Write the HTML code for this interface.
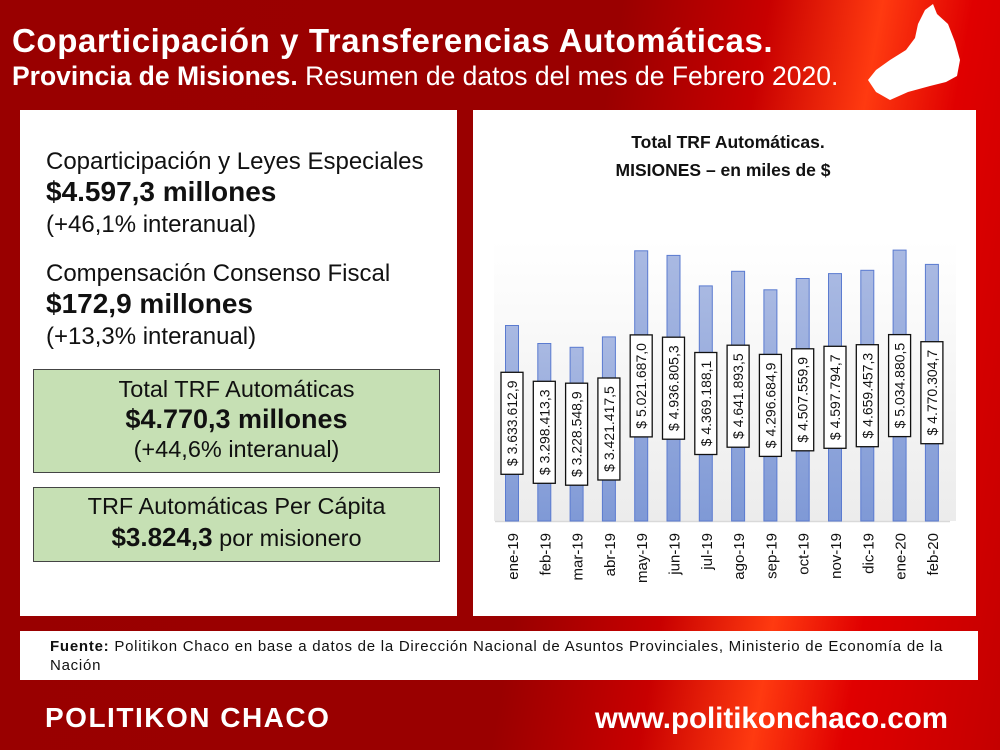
<!DOCTYPE html>
<html><head><meta charset="utf-8"><style>
body{margin:0;width:1000px;height:750px;overflow:hidden;font-family:"Liberation Sans",Arial,sans-serif;}
.bg{position:absolute;left:0;top:0;width:1000px;height:750px;background:linear-gradient(100deg,#990000 0%,#9a0000 55%,#c80000 68%,#ff3a10 78%,#e00000 86%,#c40000 100%);}
.t1{position:absolute;left:12px;top:22px;color:#fff;font-weight:bold;font-size:33px;letter-spacing:0.6px;}
.t2{position:absolute;left:12px;top:61px;color:#fff;font-size:26.5px;}
.panel{position:absolute;background:#fff;}
.l{position:absolute;left:46px;color:#111;}
.g{position:absolute;left:33px;width:405px;background:#c6e0b4;border:1.5px solid #444;text-align:center;color:#111;}
</style></head><body>
<div class="bg"></div>
<svg style="position:absolute;left:0;top:0" width="1000" height="750">
<polygon points="925,10 933,4 937,14 948,24 955,42 960,60 957,76 946,82 930,86 908,92 890,100 876,92 868,80 876,70 890,60 906,50 915,38 918,24" fill="#fff"/>
</svg>
<div class="t1">Coparticipación y Transferencias Automáticas.</div>
<div class="t2"><b>Provincia de Misiones.</b> Resumen de datos del mes de Febrero 2020.</div>
<div class="panel" style="left:20px;top:110px;width:437px;height:506px;"></div>
<div class="panel" style="left:473px;top:110px;width:503px;height:506px;"></div>
<div class="l" style="top:148px;font-size:24px;">Coparticipación y Leyes Especiales</div>
<div class="l" style="top:176px;font-size:28px;font-weight:bold;">$4.597,3 millones</div>
<div class="l" style="top:211px;font-size:24px;">(+46,1% interanual)</div>
<div class="l" style="top:260px;font-size:24px;">Compensación Consenso Fiscal</div>
<div class="l" style="top:288px;font-size:28px;font-weight:bold;">$172,9 millones</div>
<div class="l" style="top:323px;font-size:24px;">(+13,3% interanual)</div>
<div class="g" style="top:369px;height:102px;">
<div style="font-size:23.5px;margin-top:6px;">Total TRF Automáticas</div>
<div style="font-size:27px;font-weight:bold;margin-top:1px;">$4.770,3 millones</div>
<div style="font-size:23.5px;margin-top:1px;">(+44,6% interanual)</div></div>
<div class="g" style="top:487px;height:73px;">
<div style="font-size:23.5px;margin-top:5px;">TRF Automáticas Per Cápita</div>
<div style="font-size:23.5px;margin-top:2px;"><b style="font-size:26px">$3.824,3</b> por misionero</div></div>
<svg style="position:absolute;left:0;top:0" width="1000" height="750" font-family="Liberation Sans, Arial, sans-serif">
<defs><linearGradient id="bar" x1="0" y1="0" x2="0" y2="1"><stop offset="0" stop-color="#a9b9e2"/><stop offset="1" stop-color="#7f99d6"/></linearGradient>
<linearGradient id="pa" x1="0" y1="0" x2="0" y2="1"><stop offset="0" stop-color="#fff"/><stop offset="1" stop-color="#ececec"/></linearGradient></defs>
<rect x="494" y="240" width="462" height="281" fill="url(#pa)"/>
<text x="728" y="148" text-anchor="middle" font-size="17.5" font-weight="bold" fill="#111">Total  TRF Automáticas.</text>
<text x="723" y="176" text-anchor="middle" font-size="17.5" font-weight="bold" fill="#111">MISIONES  – en miles de $</text>
<line x1="495" y1="521.5" x2="950" y2="521.5" stroke="#d9d9d9" stroke-width="1.5"/>
<g fill="url(#bar)" stroke="#5b7bd0" stroke-width="1">
<rect x="505.5" y="325.5" width="13" height="195.5"/>
<rect x="537.8" y="343.5" width="13" height="177.5"/>
<rect x="570.1" y="347.3" width="13" height="173.7"/>
<rect x="602.4" y="336.9" width="13" height="184.1"/>
<rect x="634.7" y="250.8" width="13" height="270.2"/>
<rect x="667" y="255.4" width="13" height="265.6"/>
<rect x="699.3" y="285.9" width="13" height="235.1"/>
<rect x="731.6" y="271.3" width="13" height="249.7"/>
<rect x="763.9" y="289.8" width="13" height="231.2"/>
<rect x="796.2" y="278.5" width="13" height="242.5"/>
<rect x="828.5" y="273.6" width="13" height="247.4"/>
<rect x="860.8" y="270.3" width="13" height="250.7"/>
<rect x="893.1" y="250.1" width="13" height="270.9"/>
<rect x="925.4" y="264.4" width="13" height="256.6"/>
</g>
<g fill="#fff" stroke="#111" stroke-width="1.3">
<rect x="501" y="372.3" width="22" height="102"/>
<rect x="533.3" y="381.3" width="22" height="102"/>
<rect x="565.6" y="383.2" width="22" height="102"/>
<rect x="597.9" y="378" width="22" height="102"/>
<rect x="630.2" y="334.9" width="22" height="102"/>
<rect x="662.5" y="337.2" width="22" height="102"/>
<rect x="694.8" y="352.5" width="22" height="102"/>
<rect x="727.1" y="345.2" width="22" height="102"/>
<rect x="759.4" y="354.4" width="22" height="102"/>
<rect x="791.7" y="348.8" width="22" height="102"/>
<rect x="824" y="346.3" width="22" height="102"/>
<rect x="856.3" y="344.7" width="22" height="102"/>
<rect x="888.6" y="334.6" width="22" height="102"/>
<rect x="920.9" y="341.7" width="22" height="102"/>
</g>
<g font-size="14" fill="#111" text-anchor="middle">
<text transform="translate(517,423.3) rotate(-90)">$ 3.633.612,9</text>
<text transform="translate(549.3,432.3) rotate(-90)">$ 3.298.413,3</text>
<text transform="translate(581.6,434.2) rotate(-90)">$ 3.228.548,9</text>
<text transform="translate(613.9,429) rotate(-90)">$ 3.421.417,5</text>
<text transform="translate(646.2,385.9) rotate(-90)">$ 5.021.687,0</text>
<text transform="translate(678.5,388.2) rotate(-90)">$ 4.936.805,3</text>
<text transform="translate(710.8,403.5) rotate(-90)">$ 4.369.188,1</text>
<text transform="translate(743.1,396.2) rotate(-90)">$ 4.641.893,5</text>
<text transform="translate(775.4,405.4) rotate(-90)">$ 4.296.684,9</text>
<text transform="translate(807.7,399.8) rotate(-90)">$ 4.507.559,9</text>
<text transform="translate(840,397.3) rotate(-90)">$ 4.597.794,7</text>
<text transform="translate(872.3,395.7) rotate(-90)">$ 4.659.457,3</text>
<text transform="translate(904.6,385.6) rotate(-90)">$ 5.034.880,5</text>
<text transform="translate(936.9,392.7) rotate(-90)">$ 4.770.304,7</text>
</g>
<g font-size="15" fill="#111" text-anchor="end">
<text transform="translate(518,533) rotate(-90)">ene-19</text>
<text transform="translate(550.3,533) rotate(-90)">feb-19</text>
<text transform="translate(582.6,533) rotate(-90)">mar-19</text>
<text transform="translate(614.9,533) rotate(-90)">abr-19</text>
<text transform="translate(647.2,533) rotate(-90)">may-19</text>
<text transform="translate(679.5,533) rotate(-90)">jun-19</text>
<text transform="translate(711.8,533) rotate(-90)">jul-19</text>
<text transform="translate(744.1,533) rotate(-90)">ago-19</text>
<text transform="translate(776.4,533) rotate(-90)">sep-19</text>
<text transform="translate(808.7,533) rotate(-90)">oct-19</text>
<text transform="translate(841,533) rotate(-90)">nov-19</text>
<text transform="translate(873.3,533) rotate(-90)">dic-19</text>
<text transform="translate(905.6,533) rotate(-90)">ene-20</text>
<text transform="translate(937.9,533) rotate(-90)">feb-20</text>
</g>
</svg>
<div class="panel" style="left:20px;top:631px;width:958px;height:49px;"></div>
<div style="position:absolute;left:50px;top:637px;width:900px;font-size:15px;line-height:19px;color:#111;letter-spacing:0.75px;white-space:nowrap;"><b>Fuente:</b> Politikon Chaco en base a datos de la Dirección Nacional de Asuntos Provinciales, Ministerio de Economía de la<br>Nación</div>
<div style="position:absolute;left:45px;top:702px;color:#fff;font-weight:bold;font-size:28px;letter-spacing:1.5px;">POLITIKON CHACO</div>
<div style="position:absolute;left:595px;top:702px;color:#fff;font-weight:bold;font-size:29.5px;">www.politikonchaco.com</div>
</body></html>
